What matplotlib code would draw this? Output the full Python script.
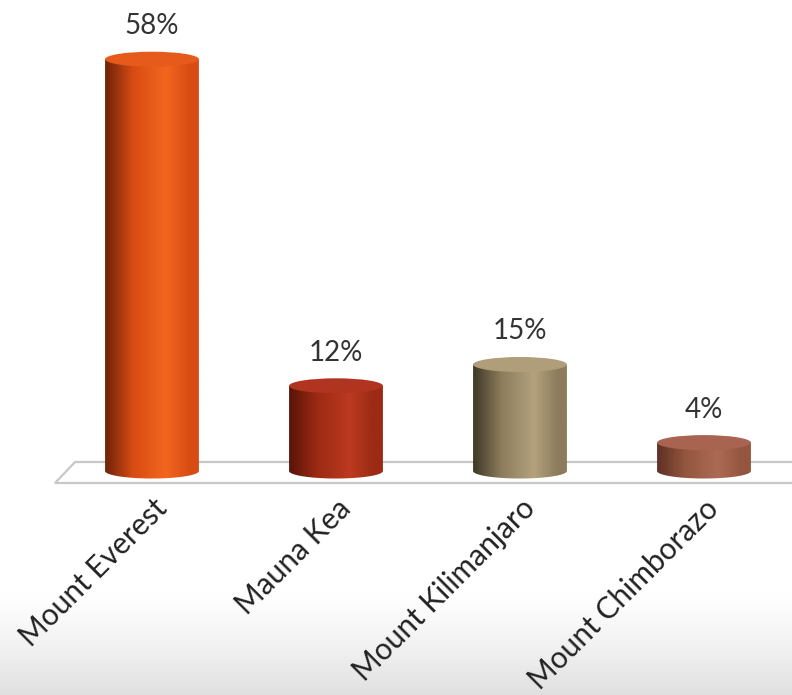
import numpy as np
import matplotlib
matplotlib.use('Agg')
import matplotlib.pyplot as plt
from matplotlib.path import Path
from matplotlib.patches import Ellipse, PathPatch, Polygon
from matplotlib.colors import to_rgb

# data
mountains = ['Mount Everest', 'Mauna Kea', 'Mount Kilimanjaro', 'Mount Chimborazo']
shares = [58, 12, 15, 4]
labels = ['58%', '12%', '15%', '4%']
# (dark edge, body, highlight, top)
bar_colors = [
    ('#6e2208', '#d84c14', '#f2661f', '#e65a1c'),
    ('#5a1408', '#9c2a14', '#bc3a20', '#b03420'),
    ('#3e3828', '#8c7c5c', '#b4a27e', '#b09e7a'),
    ('#5e3024', '#94563e', '#ac6a54', '#a86450'),
]

plt.rcParams['font.family'] = ['Lato', 'DejaVu Sans']

fig = plt.figure(figsize=(7.92, 6.95), dpi=100)
ax = fig.add_axes([0, 0, 1, 1])
# pixel mapping: bar i centred at 152 + 184*i px, y=0 at 471 px, 7.1 px per %
ax.set_xlim(-152 / 184, 640 / 184)
ax.set_ylim(-(695 - 471) / 7.1, 471 / 7.1)
ax.axis('off')

# grey band at the bottom of the picture
band = np.linspace(0, 1, 100)[:, None]
grad = np.ones((100, 1, 3)) * (1 - 0.12 * band[..., None] ** 1.3)
ax.imshow(grad, extent=(-152 / 184, 640 / 184, -(695 - 471) / 7.1, -(590 - 471) / 7.1),
          aspect='auto', origin='upper', zorder=0)

# floor
floor_back = (471 - 462) / 7.1
floor_front = -(483 - 471) / 7.1
floor = Polygon([(-0.527, floor_front), (-0.418, floor_back), (3.6, floor_back), (3.6, floor_front)],
                closed=True, facecolor='white', edgecolor='#c8c8c8', lw=1.6, zorder=1)
ax.add_patch(floor)

w = 0.51
eh = 7.5 / 7.1  # half height of the ellipses
t = np.linspace(np.pi, 2 * np.pi, 60)
for i, (v, lab) in enumerate(zip(shares, labels)):
    dark, body, light, top = bar_colors[i]
    x0, x1 = i - w / 2, i + w / 2
    pts = [(x0, v), (x0, 0)] + [(i + w / 2 * np.cos(a), eh * np.sin(a)) for a in t] + [(x1, v), (x0, v)]
    clip = PathPatch(Path(pts), transform=ax.transData, facecolor='none', edgecolor='none')
    ax.add_patch(clip)
    stops = [0.0, 0.3, 0.65, 0.9, 1.0]
    cols = [to_rgb(dark), to_rgb(body), to_rgb(light), to_rgb(body), to_rgb(body)]
    xs = np.linspace(0, 1, 200)
    g = np.stack([np.interp(xs, stops, [c[k] for c in cols]) for k in range(3)], axis=-1)[None, :, :]
    im = ax.imshow(g, extent=(x0, x1, -eh, v), aspect='auto', zorder=2)
    im.set_clip_path(clip)
    ax.add_patch(Ellipse((i, v), w, 2 * eh, facecolor=top, edgecolor='none', zorder=3))
    ax.annotate(lab, (i, v), xytext=(0, 23.8), textcoords='offset points',
                ha='center', va='center', fontsize=20, color='#333333', zorder=4)
    ax.text(i + 0.11, -(494 - 471) / 7.1, mountains[i], rotation=45, ha='right', va='top',
            fontsize=21.5, color='#222222', zorder=4)

fig.savefig('out.png', dpi=100)
